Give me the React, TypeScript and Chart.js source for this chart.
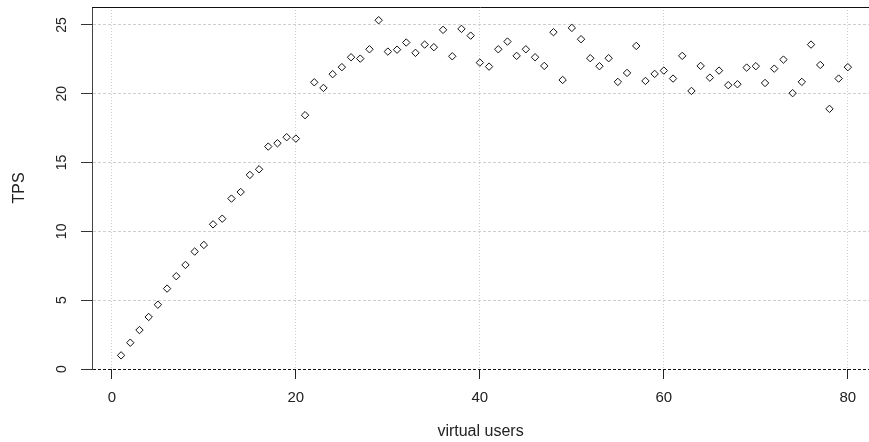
import React, { useEffect, useRef } from "react";
import { Chart, registerables } from "chart.js";

Chart.register(...registerables);

const virtualUsers = [
  1, 2, 3, 4, 5, 6, 7, 8, 9, 10, 11, 12, 13, 14, 15, 16, 17, 18, 19, 20,
  21, 22, 23, 24, 25, 26, 27, 28, 29, 30, 31, 32, 33, 34, 35, 36, 37, 38, 39, 40,
  41, 42, 43, 44, 45, 46, 47, 48, 49, 50, 51, 52, 53, 54, 55, 56, 57, 58, 59, 60,
  61, 62, 63, 64, 65, 66, 67, 68, 69, 70, 71, 72, 73, 74, 75, 76, 77, 78, 79, 80,
];

const tps = [
  0.99, 1.91, 2.83, 3.78, 4.67, 5.84, 6.74, 7.56, 8.53, 9.01,
  10.51, 10.92, 12.38, 12.86, 14.1, 14.51, 16.16, 16.4, 16.84, 16.74,
  18.44, 20.83, 20.42, 21.42, 21.93, 22.65, 22.55, 23.23, 25.34, 23.06,
  23.2, 23.72, 22.97, 23.57, 23.38, 24.64, 22.72, 24.71, 24.22, 22.26,
  21.97, 23.23, 23.79, 22.75, 23.23, 22.65, 22.02, 24.47, 21.0, 24.78,
  23.96, 22.58, 22.0, 22.58, 20.86, 21.51, 23.47, 20.93, 21.44, 21.68,
  21.1, 22.75, 20.2, 22.02, 21.17, 21.68, 20.62, 20.69, 21.9, 22.0,
  20.78, 21.82, 22.48, 20.04, 20.86, 23.57, 22.09, 18.9, 21.1, 21.93,
];

const xTicks = [0, 20, 40, 60, 80];
const yTicks = [0, 5, 10, 15, 20, 25];
const xTitle = "virtual users";
const yTitle = "TPS";

const FONT = '"Liberation Sans", Arial, sans-serif';

const framePlugin = {
  id: "rframe",
  afterDraw(chart: any) {
    const { ctx, chartArea, scales } = chart;
    ctx.save();
    ctx.strokeStyle = "#111";
    ctx.lineWidth = 1;
    ctx.beginPath();
    ctx.moveTo(chartArea.left, Math.round(chartArea.top) + 0.5);
    ctx.lineTo(chartArea.right, Math.round(chartArea.top) + 0.5);
    ctx.stroke();

    const ys = scales.y;
    ctx.fillStyle = "#222";
    ctx.font = "14px " + FONT;
    ctx.textAlign = "center";
    ctx.textBaseline = "middle";
    ys.ticks.forEach((t: any) => {
      const py = ys.getPixelForValue(t.value);
      ctx.save();
      ctx.translate(chartArea.left - 30, py);
      ctx.rotate(-Math.PI / 2);
      ctx.fillText(String(t.value), 0, 0);
      ctx.restore();
    });
    ctx.restore();
  },
};

export default function App() {
  const canvasRef = useRef<HTMLCanvasElement>(null);

  useEffect(() => {
    document.body.style.margin = "0";
    document.body.style.overflow = "hidden";
    const canvas = canvasRef.current;
    if (!canvas) return;
    const points = virtualUsers.map((x, i) => ({ x, y: tps[i] }));
    const chart = new Chart(canvas, {
      type: "scatter",
      data: {
        datasets: [
          {
            data: points,
            pointStyle: "rectRot",
            pointRadius: 3.7,
            pointBorderWidth: 1,
            pointBorderColor: "#111",
            pointBackgroundColor: "rgba(255,255,255,0)",
          },
        ],
      },
      options: {
        responsive: false,
        animation: false,
        devicePixelRatio: 1,
        layout: { autoPadding: false, padding: { top: 7, left: 0, right: 0, bottom: 0 } },
        plugins: {
          legend: { display: false },
          tooltip: { enabled: false },
        },
        scales: {
          x: {
            type: "linear",
            min: -2.16,
            max: 82.3,
            afterBuildTicks: (s: any) => {
              s.ticks = xTicks.map((v) => ({ value: v }));
            },
            afterFit: (s: any) => {
              s.height = 73;
            },
            ticks: {
              color: "#222",
              font: { family: FONT, size: 15 },
              padding: 10,
              maxRotation: 0,
              minRotation: 0,
            },
            grid: {
              color: "#cfcfcf",
              lineWidth: 1,
              tickColor: "#222",
              tickLength: 10,
              tickBorderDash: [],
            },
            border: { display: false, dash: [1, 2] },
            title: {
              display: true,
              text: xTitle,
              color: "#222",
              font: { family: FONT, size: 16 },
              padding: { top: 0, bottom: 1 },
            },
          },
          y: {
            type: "linear",
            min: 0,
            max: 26.3,
            afterBuildTicks: (s: any) => {
              s.ticks = yTicks.map((v) => ({ value: v }));
            },
            afterFit: (s: any) => {
              s.width = 92;
            },
            ticks: { display: false },
            grid: {
              color: (c: any) => (c.tick && c.tick.value === 0 ? "#111" : "#cfcfcf"),
              lineWidth: 1,
              tickColor: "#333",
              tickLength: 11,
              tickBorderDash: [],
            },
            border: { display: true, color: "#444", width: 1, dash: [3, 2] },
            title: {
              display: true,
              text: yTitle,
              color: "#222",
              font: { family: FONT, size: 16 },
              padding: { top: 10, bottom: 0 },
            },
          },
        },
      },
      plugins: [framePlugin],
    });
    return () => chart.destroy();
  }, []);

  return (
    <div style={{ width: 869, height: 442 }}>
      <canvas ref={canvasRef} width={869} height={442} style={{ display: "block" }} />
    </div>
  );
}
